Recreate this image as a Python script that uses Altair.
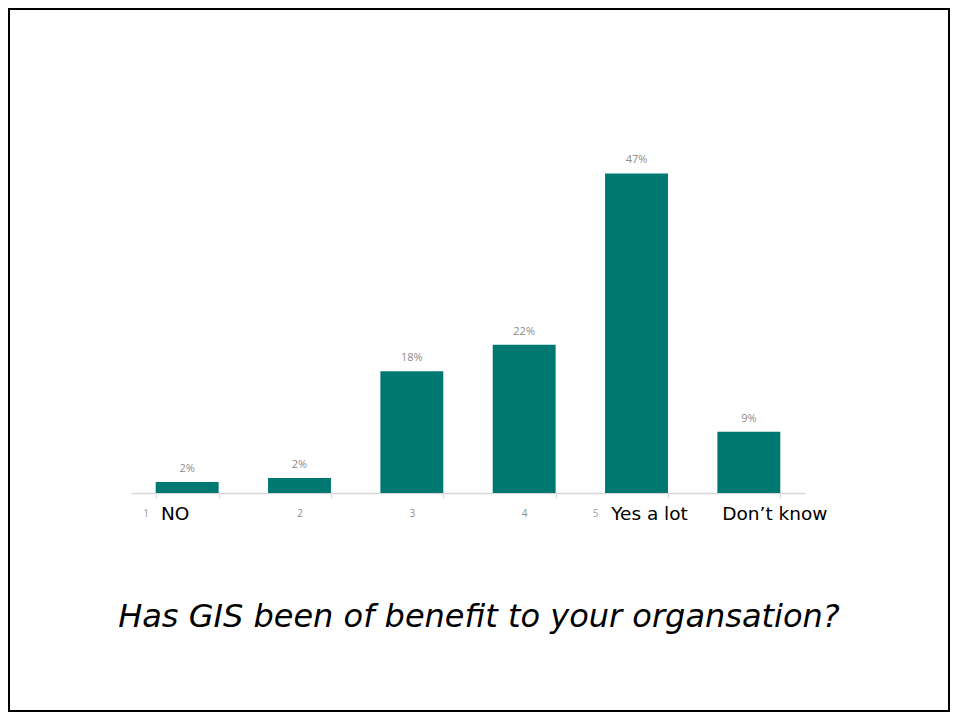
import altair as alt
import pandas as pd

categories = ["1", "2", "3", "4", "5", "6"]
values = [1.6, 2.2, 17.9, 21.8, 47.0, 9.0]
value_labels = ["2%", "2%", "18%", "22%", "47%", "9%"]
axis_numbers = ["1", "2", "3", "4", "5", ""]
overlay_labels = ["NO", "", "", "", "Yes a lot", "Don\u2019t know"]
title_text = "Has GIS been of benefit to your organsation?"

df = pd.DataFrame({
    "cat": categories,
    "value": values,
    "label": value_labels,
    "num": axis_numbers,
    "overlay": overlay_labels,
})

TEAL = "#007872"
W, H = 674, 340
PAD = {"left": 123, "top": 145, "right": 145, "bottom": 219}

xscale = alt.Scale(domain=categories, paddingInner=0.44, paddingOuter=0.22)
yscale = alt.Scale(domain=[0, 50])

x_enc = alt.X(
    "cat:N",
    scale=xscale,
    sort=categories,
    axis=alt.Axis(
        title=None,
        labelAngle=0,
        labelExpr="indexof(['2','3','4'], datum.value) >= 0 ? datum.value : ''",
        labelColor="#8c8c8c",
        labelFont="Open Sans",
        labelFontSize=10,
        labelPadding=10,
        domainColor="#d9d9d9",
        domainWidth=1.5,
        tickColor="#d9d9d9",
        tickSize=5,
        tickBand="extent",
        grid=False,
    ),
)

bars = alt.Chart(df).mark_bar(color=TEAL).encode(
    x=x_enc,
    y=alt.Y("value:Q", scale=yscale, axis=None),
)

bar_labels = alt.Chart(df).mark_text(
    baseline="bottom", dy=-8, fontSize=11, color="#8c8c8c", font="Open Sans"
).encode(
    x=alt.X("cat:N", scale=xscale, sort=categories),
    y=alt.Y("value:Q", scale=yscale),
    text="label:N",
)

frag_df = df[df["cat"].isin(["1", "5"])]
frags = alt.Chart(frag_df).mark_text(
    baseline="middle", fontSize=10, color="#a0a0a0", font="Open Sans", dx=-41
).encode(
    x=alt.X("cat:N", scale=xscale, sort=categories),
    y=alt.value(H + 21),
    text="num:N",
)

ov_df = df[df["overlay"] != ""].copy()
ov_df["dx"] = [-12, 13, 26]
overlay = alt.layer(*[
    alt.Chart(ov_df[ov_df["cat"] == c]).mark_text(
        baseline="middle", fontSize=18.5, color="#000000", font="DejaVu Sans", dx=d
    ).encode(
        x=alt.X("cat:N", scale=xscale, sort=categories),
        y=alt.value(H + 21),
        text="overlay:N",
    )
    for c, d in zip(ov_df["cat"], ov_df["dx"])
])

frame_df = pd.DataFrame({"k": ["frame"]})
frame = alt.Chart(frame_df).mark_rect(
    fill=None, stroke="#000000", strokeWidth=2
).encode(
    x=alt.value(-PAD["left"] + 1),
    x2=alt.value(W + PAD["right"] - 1),
    y=alt.value(-PAD["top"] + 1),
    y2=alt.value(H + PAD["bottom"] - 1),
)

title_df = pd.DataFrame({"t": [title_text]})
title = alt.Chart(title_df).mark_text(
    fontSize=32, fontStyle="italic", font="DejaVu Sans", color="#000000",
    baseline="middle", align="center"
).encode(
    x=alt.value(W / 2 + 11),
    y=alt.value(H + 124),
    text="t:N",
)

chart = alt.layer(bars, bar_labels, frags, overlay, title, frame).properties(
    width=W,
    height=H,
    padding=PAD,
    autosize=alt.AutoSizeParams(type="none"),
    background="#ffffff",
).configure_view(stroke=None)

chart.save("out.html", embed_options={"renderer": "svg", "actions": False})
